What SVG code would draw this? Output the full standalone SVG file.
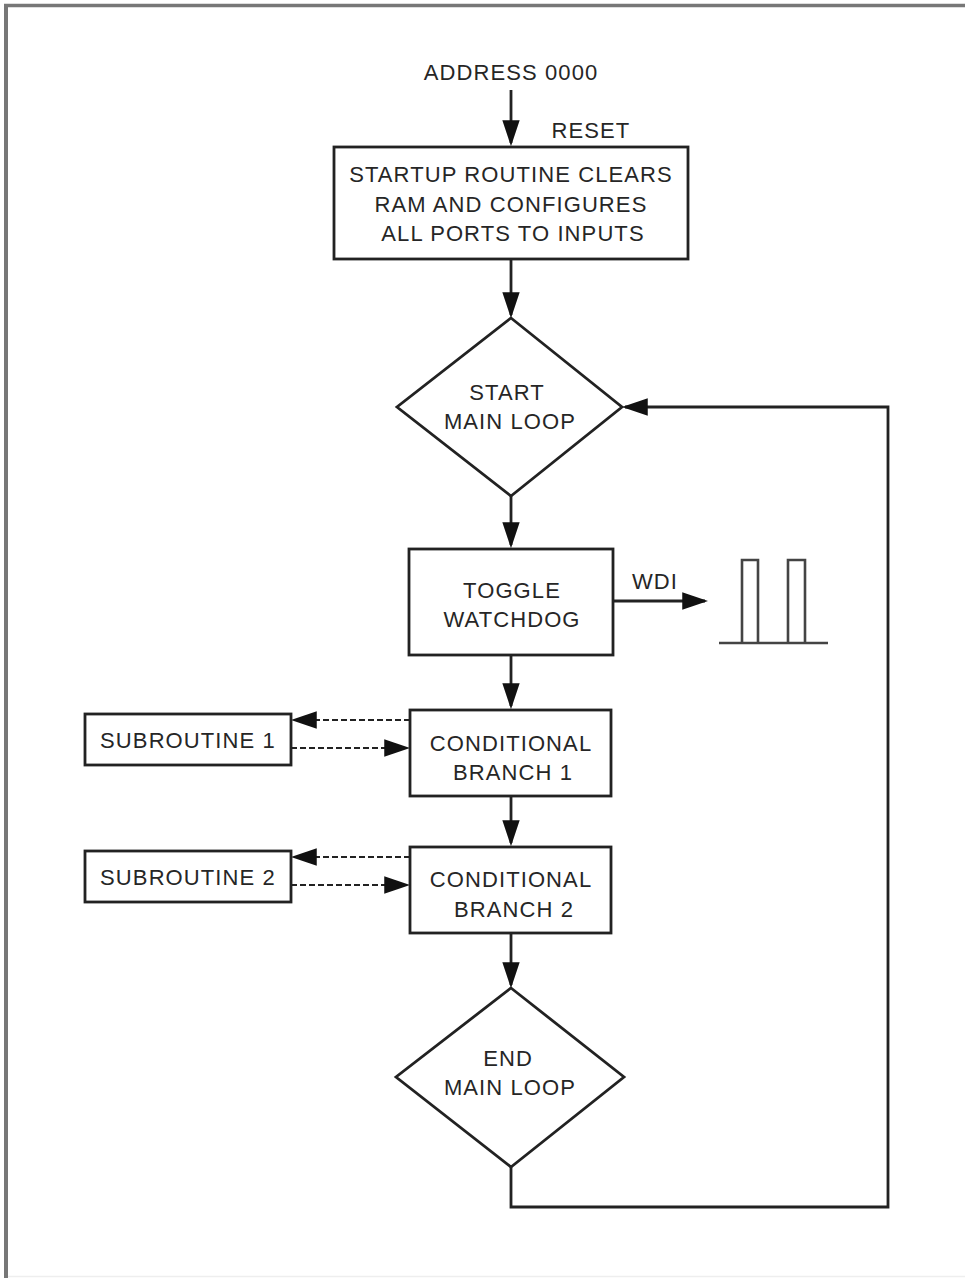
<svg xmlns="http://www.w3.org/2000/svg" width="965" height="1278" viewBox="0 0 965 1278">
<style>
.t{font-family:"Liberation Sans",Arial,sans-serif;font-size:22px;letter-spacing:1.1px;fill:#262626;text-anchor:middle}
.b{fill:#fff;stroke:#222;stroke-width:2.8}
.c{fill:none;stroke:#222;stroke-width:2.8}
.d{fill:none;stroke:#222;stroke-width:2.2;stroke-dasharray:6 3}
.p{fill:none;stroke:#444;stroke-width:2.6}
</style>
<defs>
<marker id="ah" markerUnits="userSpaceOnUse" markerWidth="26" markerHeight="18" viewBox="0 0 24 16" refX="21" refY="8" orient="auto">
<path d="M0,0 L24,8 L0,16 z" fill="#111"/>
</marker>
</defs>
<rect width="965" height="1278" fill="#fff"/>
<g id="frame">
<line x1="4" y1="5.5" x2="965" y2="5.5" stroke="#777" stroke-width="3.5"/>
<line x1="6" y1="4" x2="6" y2="1278" stroke="#777" stroke-width="4"/>
<line x1="8" y1="1276.5" x2="965" y2="1276.5" stroke="#eee" stroke-width="1.5"/>
</g>
<g id="connectors">
<line class="c" x1="511" y1="90" x2="511" y2="143" marker-end="url(#ah)"/>
<line class="c" x1="511" y1="259" x2="511" y2="315" marker-end="url(#ah)"/>
<line class="c" x1="511" y1="496" x2="511" y2="545" marker-end="url(#ah)"/>
<line class="c" x1="511" y1="655" x2="511" y2="706" marker-end="url(#ah)"/>
<line class="c" x1="511" y1="796" x2="511" y2="843" marker-end="url(#ah)"/>
<line class="c" x1="511" y1="933" x2="511" y2="985" marker-end="url(#ah)"/>
<polyline class="c" points="511,1167 511,1207 888,1207 888,407 625,407" marker-end="url(#ah)"/>
<line class="c" x1="613" y1="601" x2="705" y2="601" marker-end="url(#ah)"/>
<line class="d" x1="410" y1="720" x2="294" y2="720" marker-end="url(#ah)"/>
<line class="d" x1="291" y1="748" x2="407" y2="748" marker-end="url(#ah)"/>
<line class="d" x1="410" y1="857" x2="294" y2="857" marker-end="url(#ah)"/>
<line class="d" x1="291" y1="885" x2="407" y2="885" marker-end="url(#ah)"/>
</g>
<g id="labels">
<text class="t" x="511" y="80">ADDRESS 0000</text>
<text class="t" x="591" y="138">RESET</text>
<text class="t" x="655" y="589">WDI</text>
</g>
<g id="startup">
<rect class="b" x="334" y="147" width="354" height="112"/>
<text class="t" x="511" y="182">STARTUP ROUTINE CLEARS</text>
<text class="t" x="511" y="212">RAM AND CONFIGURES</text>
<text class="t" x="513" y="241">ALL PORTS TO INPUTS</text>
</g>
<g id="start_loop">
<polygon class="b" points="511,318 622,407 511,496 397,407"/>
<text class="t" x="507" y="400">START</text>
<text class="t" x="510" y="429">MAIN LOOP</text>
</g>
<g id="toggle">
<rect class="b" x="409" y="549" width="204" height="106"/>
<text class="t" x="512" y="598">TOGGLE</text>
<text class="t" x="512" y="627">WATCHDOG</text>
</g>
<g id="wdi_pulse">
<line class="p" x1="719" y1="643" x2="828" y2="643"/>
<polyline class="p" points="742,643 742,560 758,560 758,643"/>
<polyline class="p" points="788,643 788,560 805,560 805,643"/>
</g>
<g id="sub1">
<rect class="b" x="85" y="714" width="206" height="51"/>
<text class="t" x="188" y="748">SUBROUTINE 1</text>
</g>
<g id="branch1">
<rect class="b" x="410" y="710" width="201" height="86"/>
<text class="t" x="511" y="751">CONDITIONAL</text>
<text class="t" x="513" y="780">BRANCH 1</text>
</g>
<g id="sub2">
<rect class="b" x="85" y="851" width="206" height="51"/>
<text class="t" x="188" y="885">SUBROUTINE 2</text>
</g>
<g id="branch2">
<rect class="b" x="410" y="847" width="201" height="86"/>
<text class="t" x="511" y="887">CONDITIONAL</text>
<text class="t" x="514" y="917">BRANCH 2</text>
</g>
<g id="end_loop">
<polygon class="b" points="511,988 624,1077 511,1167 396,1077"/>
<text class="t" x="508" y="1066">END</text>
<text class="t" x="510" y="1095">MAIN LOOP</text>
</g>
</svg>
